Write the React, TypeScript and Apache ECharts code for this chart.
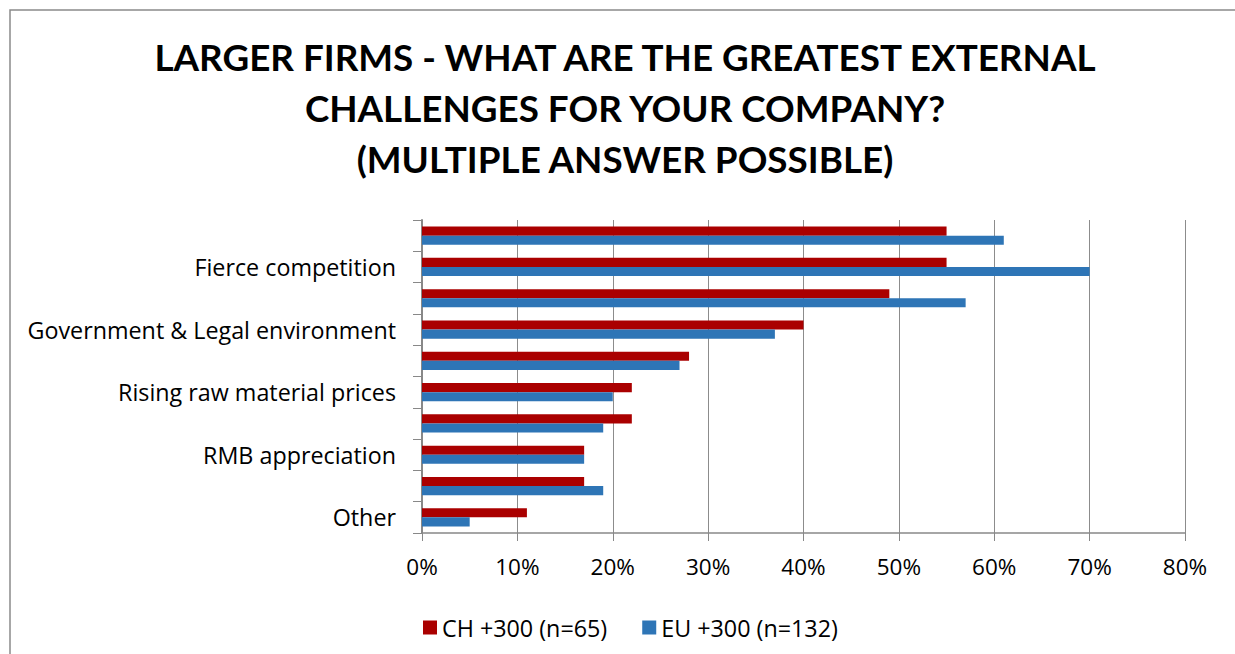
import React, { useEffect, useRef } from "react";
import * as echarts from "echarts";

const categories = [
  "",
  "Fierce competition",
  "",
  "Government & Legal environment",
  "",
  "Rising raw material prices",
  "",
  "RMB appreciation",
  "",
  "Other",
];
const chValues = [55, 55, 49, 40, 28, 22, 22, 17, 17, 11];
const euValues = [61, 70, 57, 37, 27, 20, 19, 17, 19, 5];
const seriesNames = ["CH +300 (n=65)", "EU +300 (n=132)"];
const xTicks = { min: 0, max: 80, interval: 10 };
const titleText =
  "LARGER FIRMS - WHAT ARE THE GREATEST EXTERNAL\nCHALLENGES FOR YOUR COMPANY?\n(MULTIPLE ANSWER POSSIBLE)";

export default function App() {
  const ref = useRef<HTMLDivElement>(null);
  useEffect(() => {
    if (!ref.current) return;
    const chart = echarts.init(ref.current, undefined, { renderer: "svg" });
    const titleFont = "Lato, 'Open Sans', sans-serif";
    const font = "'Open Sans', Lato, sans-serif";
    chart.setOption({
      animation: false,
      backgroundColor: "#fff",
      textStyle: { fontFamily: font },
      title: {
        text: titleText,
        left: 620,
        top: 26,
        textAlign: "center",
        textStyle: {
          fontFamily: titleFont,
          fontWeight: "bold",
          fontSize: 36.8,
          lineHeight: 51,
          color: "#000",
        },
      },
      graphic: [
        {
          type: "rect",
          shape: { x: 10, y: 10, width: 1240, height: 660 },
          style: { fill: "none", stroke: "#8a8a8a", lineWidth: 1.5 },
          silent: true,
        },
      ],
      legend: {
        left: 418,
        top: 611,
        itemWidth: 14,
        itemHeight: 14,
        itemGap: 35,
        icon: "rect",
        textStyle: { fontSize: 23.3, color: "#000", fontFamily: font },
        data: seriesNames,
      },
      grid: { left: 422, right: 50, top: 220, bottom: 121, containLabel: false },
      xAxis: {
        type: "value",
        min: xTicks.min,
        max: xTicks.max,
        interval: xTicks.interval,
        axisLabel: {
          formatter: "{value}%",
          fontSize: 22.5,
          color: "#000",
          margin: 22,
          fontFamily: font,
        },
        axisLine: { show: true, lineStyle: { color: "#888", width: 1.5 } },
        axisTick: { show: true, length: 8, lineStyle: { color: "#888" } },
        splitLine: { show: true, lineStyle: { color: "#8c8c8c", width: 1 } },
      },
      yAxis: {
        type: "category",
        inverse: true,
        data: categories,
        axisLabel: {
          fontSize: 23.3,
          color: "#000",
          margin: 26,
          interval: 0,
          fontFamily: font,
        },
        axisLine: { show: true, lineStyle: { color: "#888", width: 2 } },
        axisTick: { show: true, length: 9, alignWithLabel: false, lineStyle: { color: "#888" } },
        splitLine: { show: false },
      },
      series: [
        {
          name: seriesNames[0],
          type: "bar",
          data: chValues,
          itemStyle: { color: "#AA0000" },
          barGap: "0%",
          barCategoryGap: "42%",
        },
        {
          name: seriesNames[1],
          type: "bar",
          data: euValues,
          itemStyle: { color: "#2E75B6" },
          barGap: "0%",
          barCategoryGap: "42%",
        },
      ],
    });
    return () => chart.dispose();
  }, []);
  return (
    <div
      ref={ref}
      style={{ position: "absolute", left: 0, top: 0, width: 1235, height: 654 }}
    />
  );
}
